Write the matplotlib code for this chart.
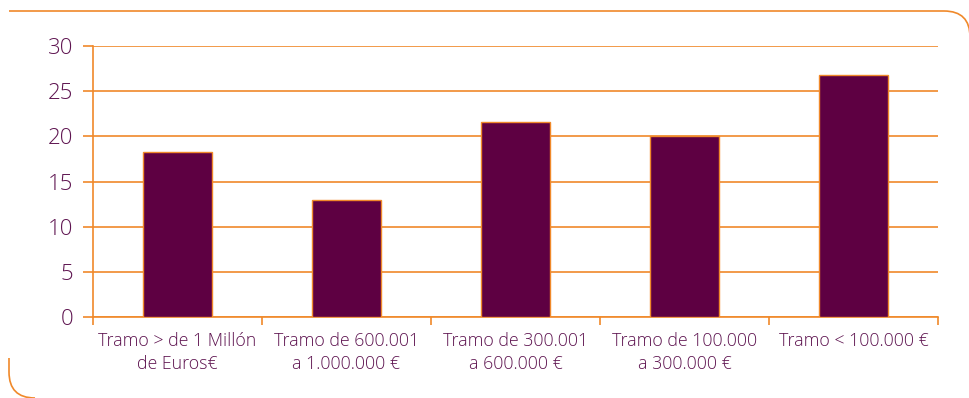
import matplotlib.pyplot as plt
from matplotlib.path import Path
from matplotlib.patches import PathPatch
import numpy as np

categories = ['Tramo > de 1 Millón\nde Euros€', 'Tramo de 600.001\na 1.000.000 €',
              'Tramo de 300.001\na 600.000 €', 'Tramo de 100.000\na 300.000 €',
              'Tramo < 100.000 €']
values = [18.3, 13.0, 21.6, 20.0, 26.8]
yticks = [0, 5, 10, 15, 20, 25, 30]

purple = '#5E0042'
orange = '#F0892A'
text_c = '#5E1450'

plt.rcParams['font.family'] = ['Open Sans', 'DejaVu Sans']
plt.rcParams['font.weight'] = 300

fig = plt.figure(figsize=(9.7, 3.98), dpi=100)
ax = fig.add_axes([93/970, 1-317/398, 845/970, 271/398])

x = np.arange(len(values))
ax.bar(x, values, width=0.41, color=purple, edgecolor=orange, linewidth=1.0, zorder=3)

ax.set_xlim(-0.5, len(values) - 0.5)
ax.set_ylim(0, 30)
ax.set_yticks(yticks)
ax.yaxis.grid(True, color=orange, linewidth=1.2, zorder=0)
ax.tick_params(axis='y', colors=orange, length=7, width=1.2, labelcolor=text_c, labelsize=16, pad=7)

# category boundaries as ticks, labels at the centres
ax.set_xticks(np.arange(len(values) + 1) - 0.5)
ax.set_xticklabels([])
ax.set_xticks(x, minor=True)
ax.set_xticklabels(categories, minor=True, fontsize=12.8, color=text_c, linespacing=1.35)
ax.tick_params(axis='x', which='major', colors=orange, length=6, width=1.2)
ax.tick_params(axis='x', which='minor', length=0, pad=11)

for s in ['top', 'right']:
    ax.spines[s].set_visible(False)
for s in ['left', 'bottom']:
    ax.spines[s].set_color(orange)
    ax.spines[s].set_linewidth(1.2)

# rounded frame pieces in figure pixels
W, H = 970, 398
def fp(px, py):
    return (px / W, 1 - py / H)

top = Path([fp(9, 11), fp(944, 11), fp(970, 11), fp(970, 37)],
           [Path.MOVETO, Path.LINETO, Path.CURVE3, Path.CURVE3])
fig.patches.append(PathPatch(top, transform=fig.transFigure, fill=False,
                             edgecolor=orange, linewidth=1.2))
left = Path([fp(9, 358), fp(9, 372), fp(9, 398), fp(35, 398)],
            [Path.MOVETO, Path.LINETO, Path.CURVE3, Path.CURVE3])
fig.patches.append(PathPatch(left, transform=fig.transFigure, fill=False,
                             edgecolor=orange, linewidth=1.2))

fig.savefig('out.png', dpi=100)
